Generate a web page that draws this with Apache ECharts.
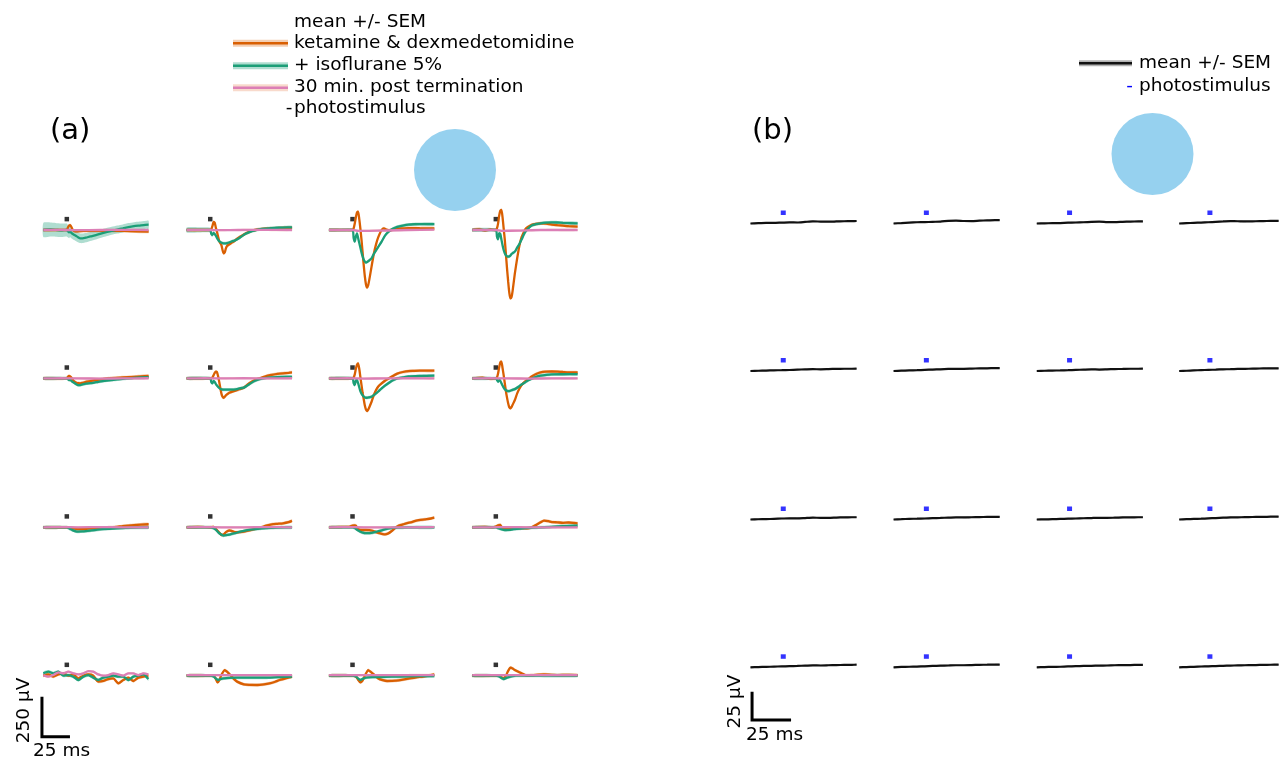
<!DOCTYPE html>
<html><head><meta charset="utf-8">
<script src="https://cdn.jsdelivr.net/npm/echarts@6/dist/echarts.min.js"></script>
<style>html,body{margin:0;padding:0;background:#fff}#c{width:1283px;height:761px}</style>
</head><body><div id="c"></div><script>
// ---------------- DATA: panel (a), [time ms, µV] (optional 3rd = SEM) ----------------
const LEGEND_A = ['mean +/- SEM','ketamine & dexmedetomidine','+ isoflurane 5%','30 min. post termination','photostimulus'];
const LEGEND_B = ['mean +/- SEM','photostimulus'];
const SCALE_A = {ms:25, uv:250, label_ms:'25 ms', label_uv:'250 µV'};
const SCALE_B = {ms:25, uv:25, label_ms:'25 ms', label_uv:'25 µV'};
const STIM_A = [0, 68];   // photostimulus marker (ms, µV)
const STIM_B = [0, 9.5];

const A11_KET = [[-21,0],[-10,0],[-2,0],[0,0],[1,15],[2,28],[3,31],[4,20],[5,5],[6,-5],[8,-8],[15,-6],[30,-5],[50,-6],[73,-10]];
const A11_ISO = [[-21,0,44],[-15,3,44],[-10,1,43],[-5,-2,42],[0,0,40],[1,-8,38],[2,-15,36],[3,-8,35],[4,-18,34],[6,-28,33],[8,-36,32],[10,-45,31],[12,-52,30],[14,-52,30],[17,-48,29],[21,-40,28],[26,-32,27],[32,-20,26],[40,-5,25],[45,3,25],[50,10,25],[55,18,25],[60,24,25],[65,28,25],[70,32,25],[73,33,25]];
const A11_POST = [[-21,0],[-10,1],[0,0],[10,-1],[30,0],[50,1],[73,0]];

const A12_KET = [[-21,0],[0,0],[1,5],[2,25],[3,50],[4,45],[5,15],[6,-10],[7,-40],[8,-70],[9,-82],[10,-95],[11,-125],[12,-146],[13,-140],[14,-115],[15,-100],[17,-90],[19,-80],[21,-73],[23,-60],[26,-45],[29,-33],[32,-20],[36,-8],[40,0],[45,5],[50,8],[55,10],[60,12],[73,13]];
const A12_ISO = [[-21,0,16],[-10,1,16],[0,0,15],[1,-25,14],[2,-31,13],[3,-18,12],[4,-25,12],[5,-35,11],[6,-50,11],[7,-60,10],[8,-70,10],[9,-75,10],[10,-80,10],[12,-83,10],[14,-83,10],[15,-82,10],[17,-78,10],[19,-72,10],[21,-68,10],[23,-62,10],[26,-50,10],[29,-35,10],[32,-22,10],[36,-10,10],[40,-2,10],[45,5,10],[50,9,10],[55,12,10],[60,14,10],[65,15,10],[73,17,10]];
const A12_POST = [[-21,0],[-10,1],[0,0],[10,-1],[25,0],[45,1],[73,0]];

const A13_KET = [[-21,0],[-10,0],[0,0],[1,10],[2,40],[3,80],[4,110],[5,115],[6,70],[7,10],[8,-60],[9,-140],[10,-220],[11,-290],[12,-340],[13,-360],[14,-345],[15,-310],[17,-229],[19,-150],[21,-90],[23,-45],[26,0],[28,10],[30,3],[33,-2],[36,2],[40,8],[45,10],[50,12],[60,11],[73,10]];
const A13_ISO = [[-21,0],[-10,0],[0,0],[1,-50],[2,-73],[3,-40],[4,-21],[5,-50],[6,-80],[7,-110],[8,-140],[9,-165],[10,-185],[11,-198],[12,-204],[13,-200],[14,-195],[15,-190],[17,-177],[19,-150],[21,-128],[23,-105],[26,-73],[29,-35],[32,-12],[36,8],[40,20],[45,28],[50,34],[55,36],[60,37],[73,37]];
const A13_POST = [[-21,0],[0,0],[5,-6],[15,-5],[30,-3],[50,0],[73,2]];

const A14_KET = [[-21,0],[-15,5],[-10,-3],[-5,3],[0,0],[1,10],[2,40],[3,90],[4,120],[5,125],[6,80],[7,10],[8,-60],[9,-150],[10,-240],[11,-320],[12,-390],[13,-427],[14,-420],[15,-380],[17,-271],[19,-180],[21,-100],[23,-45],[26,0],[27,10],[29,20],[32,32],[36,38],[40,42],[45,40],[50,34],[55,30],[60,27],[65,24],[73,21]];
const A14_ISO = [[-21,0],[0,0],[1,-40],[2,-58],[3,-20],[4,-25],[5,-60],[6,-95],[7,-125],[8,-145],[9,-158],[10,-165],[11,-167],[12,-165],[13,-160],[14,-150],[15,-145],[17,-135],[19,-110],[21,-88],[23,-60],[26,-15],[29,10],[32,28],[36,37],[40,42],[45,46],[50,48],[55,47],[60,45],[73,42]];
const A14_POST = [[-21,0],[0,0],[5,-5],[20,-4],[40,0],[73,0]];

const A21_KET = [[-21,0],[0,0],[1,10],[2,15],[3,12],[4,5],[5,-5],[6,-15],[8,-25],[10,-30],[12,-31],[14,-28],[17,-22],[21,-17],[26,-10],[32,-4],[40,2],[50,6],[60,10],[73,15]];
const A21_ISO = [[-21,0],[0,0],[1,-5],[2,-10],[3,-8],[4,-15],[6,-25],[8,-35],[10,-42],[12,-42],[14,-38],[17,-33],[21,-30],[26,-24],[32,-17],[40,-10],[50,-3],[60,3],[73,8]];
const A21_POST = [[-21,0],[-5,1],[10,0],[30,-1],[50,0],[73,1]];

const A22_KET = [[-21,0],[0,0],[1,0],[2,5],[3,20],[4,35],[5,42],[6,40],[7,15],[8,-20],[9,-60],[10,-95],[11,-115],[12,-121],[13,-115],[14,-105],[15,-100],[17,-90],[21,-79],[26,-68],[30,-58],[33,-40],[36,-25],[40,-10],[45,2],[50,15],[55,22],[60,28],[65,32],[70,35],[73,37]];
const A22_ISO = [[-21,0],[0,0],[1,-25],[2,-31],[3,-15],[4,-22],[5,-35],[6,-45],[8,-60],[10,-69],[12,-70],[15,-70],[19,-70],[23,-68],[26,-63],[30,-58],[33,-45],[36,-31],[40,-15],[45,-3],[50,3],[55,6],[60,8],[73,10]];
const A22_POST = [[-21,0],[-5,1],[10,0],[30,1],[50,0],[73,1]];

const A23_KET = [[-21,0],[0,0],[1,5],[2,25],[3,60],[4,85],[5,94],[6,60],[7,10],[8,-40],[9,-90],[10,-130],[11,-170],[12,-195],[13,-204],[14,-195],[15,-180],[17,-146],[19,-105],[21,-73],[23,-50],[26,-31],[29,-15],[32,-2],[36,15],[40,30],[45,40],[50,46],[55,47],[60,48],[73,48]];
const A23_ISO = [[-21,0],[0,0],[1,-30],[2,-42],[3,-15],[4,-10],[5,-30],[6,-55],[7,-80],[8,-95],[9,-105],[10,-113],[11,-119],[12,-121],[13,-121],[15,-118],[17,-115],[19,-105],[21,-94],[23,-82],[26,-62],[29,-45],[32,-30],[36,-12],[40,0],[45,6],[50,12],[60,15],[73,17]];
const A23_POST = [[-21,0],[-5,1],[10,-1],[30,0],[50,1],[73,0]];

const A24_KET = [[-21,0],[-12,4],[-5,-3],[0,0],[1,5],[2,30],[3,70],[4,100],[5,104],[6,65],[7,20],[8,-30],[9,-80],[10,-120],[11,-155],[12,-180],[13,-187],[14,-180],[15,-165],[17,-135],[19,-95],[21,-65],[23,-42],[26,-20],[29,-5],[32,12],[36,28],[40,38],[45,42],[50,43],[55,42],[60,40],[65,38],[73,37]];
const A24_ISO = [[-21,0],[0,0],[1,-10],[2,-21],[3,-10],[4,-15],[5,-30],[6,-45],[7,-58],[8,-68],[9,-74],[10,-78],[11,-79],[12,-79],[14,-74],[17,-67],[21,-48],[23,-38],[26,-25],[29,-12],[32,-2],[36,10],[40,17],[45,22],[50,25],[60,26],[73,27]];
const A24_POST = [[-21,0],[-5,1],[10,0],[30,-1],[50,0],[73,0]];

const A31_KET = [[-21,0],[0,0],[3,-2],[5,-5],[8,-10],[10,-12],[14,-12],[19,-8],[26,-4],[32,-2],[40,0],[45,3],[50,8],[60,14],[73,19]];
const A31_ISO = [[-21,0],[0,0],[1,-3],[3,-10],[5,-18],[8,-25],[10,-27],[14,-26],[21,-21],[32,-12],[45,-6],[60,-2],[73,0]];
const A31_POST = [[-21,0],[-5,1],[10,0],[30,1],[50,0],[73,0]];

const A32_KET = [[-21,0],[-10,2],[0,0],[3,2],[5,-10],[7,-25],[9,-40],[10,-48],[12,-45],[14,-30],[17,-20],[19,-22],[21,-28],[23,-31],[26,-30],[30,-27],[36,-18],[40,-10],[45,-2],[50,10],[55,19],[60,22],[65,25],[70,32],[73,40]];
const A32_ISO = [[-21,0],[0,0],[3,-5],[5,-15],[7,-30],[9,-42],[11,-50],[12,-52],[15,-48],[18,-44],[23,-35],[30,-23],[36,-15],[42,-10],[50,-5],[60,-2],[73,0]];
const A32_POST = [[-21,0],[-5,1],[10,0],[30,0],[50,1],[73,0]];

const A33_KET = [[-21,0],[-10,2],[-3,3],[0,10],[2,12],[3,10],[4,0],[6,-15],[8,-17],[12,-17],[15,-18],[17,-20],[21,-30],[24,-37],[27,-42],[29,-44],[32,-38],[35,-23],[38,-5],[41,10],[45,18],[48,25],[53,33],[57,42],[65,50],[70,55],[73,60]];
const A33_ISO = [[-21,0],[0,0],[2,-5],[4,-15],[7,-28],[9,-33],[11,-37],[14,-37],[17,-35],[21,-28],[24,-23],[28,-15],[33,-6],[40,-2],[50,0],[73,0]];
const A33_POST = [[-21,0],[-5,1],[10,0],[30,0],[50,0],[73,1]];

const A34_KET = [[-21,0],[-10,3],[-3,0],[0,5],[2,12],[4,15],[5,5],[6,-3],[8,-8],[10,-10],[14,-6],[19,-3],[24,-5],[28,-6],[32,0],[36,15],[40,32],[43,42],[47,38],[50,33],[55,31],[60,28],[65,30],[70,27],[73,25]];
const A34_ISO = [[-21,0],[0,0],[2,-5],[5,-12],[8,-17],[12,-16],[16,-12],[22,-8],[30,-4],[40,-1],[50,3],[60,7],[73,10]];
const A34_POST = [[-21,0],[-5,0],[10,1],[30,0],[50,0],[73,0]];

const A41_T    = [-21,-16.5,-12.1,-7.6,-3.1,1.3,5.8,10.3,14.7,19.2,23.6,28.1,32.6,37,41.5,46,50.4,54.9,59.4,63.8,68.3,72.8];
const A41_KETV = [0,8,-6,8,15,0,8,-17,0,8,0,-37,-33,-21,-17,-48,-27,-12,-33,-12,-6,0];
const A41_ISOV = [15,25,15,25,0,4,-6,-27,-6,4,-12,-27,-12,-6,0,-6,-6,-27,-6,0,8,-21];
const A41_POSTV= [4,-6,4,21,15,25,15,8,15,29,25,8,0,4,15,8,0,15,15,4,15,8];

const A42_KET = [[-21,0],[0,0],[3,0],[5,-20],[6.5,-42],[8,-30],[10,5],[13,35],[15,25],[18,4],[21,-20],[24,-37],[30,-54],[35,-57],[42,-58],[48,-54],[53,-48],[58,-38],[62,-27],[68,-15],[73,-6]];
const A42_ISO = [[-21,0],[0,0],[3,-5],[5,-18],[7,-27],[9,-22],[12,-17],[17,-13],[24,-12],[35,-12],[48,-12],[60,-9],[73,-6]];
const A42_POST = [[-21,3],[-5,4],[10,3],[30,4],[50,3],[73,3]];

const A43_KET = [[-21,0],[0,0],[3,-5],[5,-25],[7,-42],[9,-30],[11,0],[14,35],[16,25],[19,8],[23,-17],[27,-28],[31,-33],[39,-31],[45,-25],[51,-17],[57,-10],[63,-6],[68,0],[73,8]];
const A43_ISO = [[-21,0],[0,0],[3,-5],[5,-18],[7,-27],[9,-20],[12,-12],[17,-9],[22,-8],[35,-6],[50,-4],[73,-2]];
const A43_POST = [[-21,3],[-5,4],[10,3],[30,3],[50,4],[73,3]];

const A44_KET = [[-21,0],[0,0],[3,0],[5,-10],[7,-17],[9,0],[11,30],[13,50],[15,45],[17,35],[20,25],[23,15],[27,2],[32,3],[38,6],[43,8],[50,5],[55,4],[65,5],[73,4]];
const A44_ISO = [[-21,0],[0,0],[3,-5],[5,-15],[7,-21],[10,-12],[13,-6],[18,0],[30,0],[73,0]];
const A44_POST = [[-21,3],[-5,3],[10,4],[30,3],[50,3],[73,3]];

// ---------------- DATA: panel (b), µV at times B_T ----------------
const B_T = [-21,-16,-11,-6,-1,4,9,14,19,24,29,34,39,44,47];
const B11 = [0,0.3,0.5,0.5,0.8,1.0,0.9,1.4,1.9,1.7,1.6,1.8,2.0,2.1,2.2];
const B12 = [0,0.4,0.8,1.1,1.2,1.5,1.7,2.3,2.6,2.2,2.1,2.5,2.8,3.0,3.0];
const B13 = [0,0.1,0.3,0.4,0.7,0.9,1.1,1.5,1.7,1.3,1.2,1.5,1.7,1.8,1.8];
const B14 = [0,0.3,0.6,0.8,1.1,1.5,1.8,2.1,2.0,1.8,1.9,2.1,2.2,2.3,2.3];
const B21 = [0,0.2,0.4,0.6,0.7,0.9,1.2,1.4,1.6,1.5,1.7,1.9,2.0,2.0,2.1];
const B22 = [0,0.3,0.5,0.7,1.0,1.3,1.5,1.8,2.0,1.9,2.1,2.3,2.4,2.5,2.5];
const B23 = [0,0.2,0.4,0.5,0.7,1.0,1.2,1.4,1.3,1.5,1.7,1.8,2.0,2.0,2.1];
const B24 = [0,0.2,0.5,0.8,1.0,1.2,1.5,1.6,1.8,1.9,2.1,2.2,2.3,2.4,2.4];
const B31 = [0,0.2,0.3,0.6,0.9,1.1,1.0,1.3,1.6,1.5,1.4,1.7,1.9,2.0,2.0];
const B32 = [0,0.3,0.6,0.7,0.9,1.2,1.4,1.7,1.9,1.8,2.0,2.1,2.3,2.4,2.4];
const B33 = [0,0.1,0.3,0.5,0.7,0.9,1.1,1.3,1.5,1.4,1.6,1.8,1.9,2.0,2.0];
const B34 = [0,0.3,0.5,0.7,1.0,1.3,1.6,1.8,1.9,2.1,2.2,2.3,2.4,2.5,2.5];
const B41 = [0,0.2,0.4,0.6,0.8,1.0,1.2,1.5,1.7,1.6,1.8,2.0,2.1,2.2,2.3];
const B42 = [0,0.3,0.5,0.6,0.9,1.2,1.4,1.6,1.8,1.8,2.0,2.2,2.3,2.4,2.4];
const B43 = [0,0.2,0.4,0.5,0.8,1.0,1.2,1.3,1.5,1.6,1.8,1.9,2.0,2.1,2.1];
const B44 = [0,0.2,0.4,0.7,0.9,1.1,1.3,1.5,1.7,1.8,1.9,2.1,2.2,2.3,2.3];
const B_SEM = 0.6;

// ---------------- STYLE / LAYOUT ----------------
const C_KET = '#d95f02', C_ISO = '#1b9e77', C_POST = '#dc7fb6';
const F_KET = 'rgba(217,95,2,0.30)', F_ISO = 'rgba(27,158,119,0.35)', F_POST = 'rgba(236,150,110,0.35)';
const FONT = '"DejaVu Sans", sans-serif';
const FS = 18.5;

const A_COLS = [43.3, 186.7, 329, 472.3], A_ROWS = [230, 378.4, 527.3, 675.7];
const A_KX = 1.12, A_KY = 0.16, A_XR = [-24, 76], A_YR = [-500, 400];
const B_COLS = [750.5, 893.6, 1036.8, 1179.5], B_ROWS = [223.5, 371, 519.5, 667.3];
const B_KX = 1.56, B_KY = 1.132, B_XR = [-24, 50], B_YR = [-50, 20];

const zip = (t, v) => t.map((x, i) => [x, v[i]]);
const A41_KET = zip(A41_T, A41_KETV), A41_ISO = zip(A41_T, A41_ISOV), A41_POST = zip(A41_T, A41_POSTV);

const A_CELLS = [
  [[A11_KET,A11_ISO,A11_POST],[A12_KET,A12_ISO,A12_POST],[A13_KET,A13_ISO,A13_POST],[A14_KET,A14_ISO,A14_POST]],
  [[A21_KET,A21_ISO,A21_POST],[A22_KET,A22_ISO,A22_POST],[A23_KET,A23_ISO,A23_POST],[A24_KET,A24_ISO,A24_POST]],
  [[A31_KET,A31_ISO,A31_POST],[A32_KET,A32_ISO,A32_POST],[A33_KET,A33_ISO,A33_POST],[A34_KET,A34_ISO,A34_POST]],
  [[A41_KET,A41_ISO,A41_POST],[A42_KET,A42_ISO,A42_POST],[A43_KET,A43_ISO,A43_POST],[A44_KET,A44_ISO,A44_POST]]
];
const A_SEM = [10, 10, 7];
const B_CELLS = [[B11,B12,B13,B14],[B21,B22,B23,B24],[B31,B32,B33,B34],[B41,B42,B43,B44]];

const grids = [], xAxes = [], yAxes = [], series = [];
function addGrid(left, top, w, h, xr, yr) {
  const i = grids.length;
  grids.push({left: left, top: top, width: w, height: h, show: false});
  xAxes.push({type: 'value', gridIndex: i, min: xr[0], max: xr[1], show: false});
  yAxes.push({type: 'value', gridIndex: i, min: yr[0], max: yr[1], show: false});
  return i;
}
function addBand(gi, pts, sem, fill) {
  series.push({
    type: 'custom', xAxisIndex: gi, yAxisIndex: gi, silent: true,
    data: [[pts[0][0], pts[0][1]]],
    renderItem: function (params, api) {
      const up = [], lo = [];
      pts.forEach(function (p) {
        const s = p.length > 2 ? p[2] : sem;
        up.push(api.coord([p[0], p[1] + s]));
        lo.push(api.coord([p[0], p[1] - s]));
      });
      return {type: 'polygon', shape: {points: up.concat(lo.reverse()), smooth: 0.2}, style: {fill: fill}};
    }
  });
}
function addLine(gi, pts, color, width) {
  series.push({type: 'line', xAxisIndex: gi, yAxisIndex: gi, silent: true, symbol: 'none', smooth: 0.2,
    data: pts.map(function (p) { return [p[0], p[1]]; }),
    lineStyle: {color: color, width: width}});
}
function addStim(gi, st, color, size) {
  series.push({type: 'scatter', xAxisIndex: gi, yAxisIndex: gi, silent: true, symbol: 'rect', symbolSize: size,
    data: [st], itemStyle: {color: color}});
}

// panel (a)
const aCols = [C_KET, C_ISO, C_POST], aFills = [F_KET, F_ISO, F_POST];
let gA41 = -1;
A_CELLS.forEach(function (row, r) {
  row.forEach(function (cell, c) {
    const left = A_COLS[c] - (-21 - A_XR[0]) * A_KX;
    const top = A_ROWS[r] - A_YR[1] * A_KY;
    const gi = addGrid(left, top, (A_XR[1] - A_XR[0]) * A_KX, (A_YR[1] - A_YR[0]) * A_KY, A_XR, A_YR);
    if (r === 3 && c === 0) gA41 = gi;
    cell.forEach(function (tr, k) {
      addBand(gi, tr, A_SEM[k], aFills[k]);
      addLine(gi, tr, aCols[k], 2.3);
    });
    addStim(gi, STIM_A, '#000', [4.5, 4.5]);
  });
});
series.push({type: 'line', xAxisIndex: gA41, yAxisIndex: gA41, silent: true, symbol: 'none',
  data: [[-22.2, -131], [-22.2, -131 - SCALE_A.uv], [-22.2 + SCALE_A.ms, -131 - SCALE_A.uv]],
  lineStyle: {color: '#000', width: 3, join: 'miter', cap: 'butt'}});

// panel (b)
let gB41 = -1;
B_CELLS.forEach(function (row, r) {
  row.forEach(function (vals, c) {
    const left = B_COLS[c] - (-21 - B_XR[0]) * B_KX;
    const top = B_ROWS[r] - B_YR[1] * B_KY;
    const gi = addGrid(left, top, (B_XR[1] - B_XR[0]) * B_KX, (B_YR[1] - B_YR[0]) * B_KY, B_XR, B_YR);
    if (r === 3 && c === 0) gB41 = gi;
    const tr = zip(B_T, vals);
    addBand(gi, tr, B_SEM, 'rgba(0,0,0,0.3)');
    addLine(gi, tr, '#111', 2.2);
    addStim(gi, STIM_B, '#0000ff', [5, 4.5]);
  });
});
series.push({type: 'line', xAxisIndex: gB41, yAxisIndex: gB41, silent: true, symbol: 'none',
  data: [[-20, -21.6], [-20, -21.6 - SCALE_B.uv], [-20 + SCALE_B.ms, -21.6 - SCALE_B.uv]],
  lineStyle: {color: '#000', width: 3, join: 'miter', cap: 'butt'}});

// ---------------- GRAPHIC (legends, labels, circles) ----------------
function txt(x, y, s, size, color, align, rot) {
  return {type: 'text', x: x, y: y, silent: true, z: 10, rotation: rot || 0,
    style: {text: s, fontSize: size, fontFamily: FONT, font: size + 'px ' + FONT, fill: color || '#000',
      align: align || 'left', verticalAlign: 'middle', textAlign: align || 'left', textVerticalAlign: 'middle'}};
}
function legLine(x1, x2, y, color, fill, bandH) {
  return [
    {type: 'rect', silent: true, shape: {x: x1, y: y - bandH / 2, width: x2 - x1, height: bandH}, style: {fill: fill}},
    {type: 'line', silent: true, shape: {x1: x1, y1: y, x2: x2, y2: y}, style: {stroke: color, lineWidth: 2.5}}
  ];
}
const graphic = [
  {type: 'circle', silent: true, shape: {cx: 455, cy: 170, r: 41}, style: {fill: '#96d1ef'}},
  {type: 'circle', silent: true, shape: {cx: 1152.5, cy: 154, r: 41}, style: {fill: '#96d1ef'}},
  txt(50, 131, '(a)', 29),
  txt(752, 131, '(b)', 29),
  txt(294, 21.7, LEGEND_A[0], FS),
  txt(294, 43.3, LEGEND_A[1], FS),
  txt(294, 65.5, LEGEND_A[2], FS),
  txt(294, 87.5, LEGEND_A[3], FS),
  txt(289, 108.5, '-', FS, '#000', 'center'),
  txt(294, 108.5, LEGEND_A[4], FS),
  ...legLine(233, 288, 43.3, C_KET, F_KET, 7),
  ...legLine(233, 288, 65.7, C_ISO, F_ISO, 7),
  ...legLine(233, 288, 87.7, C_POST, F_POST, 7),
  ...legLine(1079, 1132, 63.3, '#111', 'rgba(0,0,0,0.3)', 6),
  txt(1139, 63.3, LEGEND_B[0], FS),
  txt(1129.5, 86.5, '-', FS, '#0000ff', 'center'),
  txt(1139, 86.5, LEGEND_B[1], FS),
  txt(33, 751.5, SCALE_A.label_ms, FS),
  txt(746, 735, SCALE_B.label_ms, FS),
  txt(24.5, 710.5, SCALE_A.label_uv, FS, '#000', 'center', Math.PI / 2),
  txt(735, 701.5, SCALE_B.label_uv, FS, '#000', 'center', Math.PI / 2)
];

const chart = echarts.init(document.getElementById('c'));
chart.setOption({animation: false, backgroundColor: '#fff', grid: grids, xAxis: xAxes, yAxis: yAxes, series: series, graphic: graphic});
</script></body></html>
